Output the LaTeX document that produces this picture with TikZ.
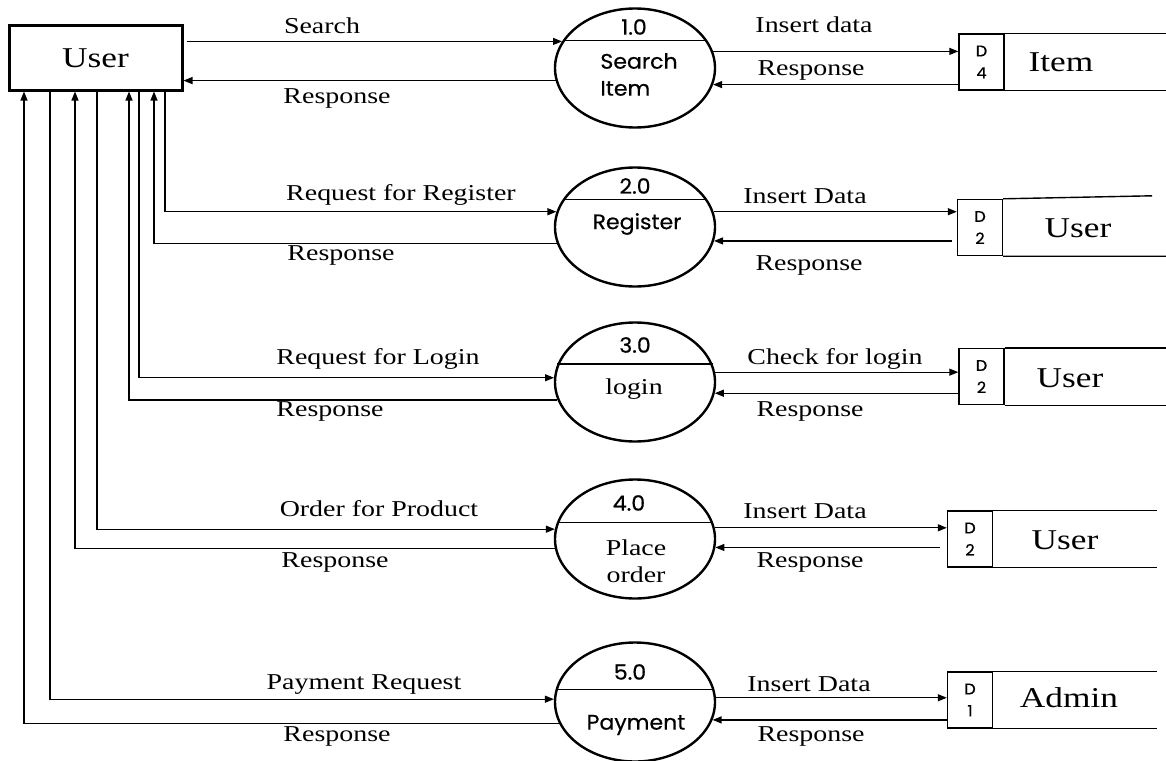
\documentclass[tikz,border=0pt]{standalone}
\usepackage{fontspec}
\usepackage{tikz}
\usetikzlibrary{shapes.geometric,arrows.meta,calc}
\newfontfamily\flowfont[FakeStretch=1.23]{Liberation Serif}
\newfontfamily\bubblefont[FakeBold=0.5,FakeStretch=1.05]{Poppins}

\begin{document}
\begin{tikzpicture}[x=1pt, y=-1pt,
	wire/.style={line width=1.2pt},
	flow/.style={line width=1.2pt, -{Triangle[length=9pt,width=7pt]}},
	proc/.style={ellipse, draw, line width=2.4pt, minimum width=160pt, minimum height=119pt, inner sep=0pt},
	sid/.style={rectangle, draw, line width=1.4pt, minimum width=45pt, minimum height=56pt, inner sep=0pt, align=center, font=\bubblefont\fontsize{15.5}{22}\selectfont},
	lbl/.style={inner sep=0pt, font=\flowfont\fontsize{22.7}{27}\selectfont},
	big/.style={inner sep=0pt, font=\flowfont\fontsize{28.7}{32}\selectfont},
	num/.style={inner sep=0pt, font=\bubblefont\fontsize{21}{27}\selectfont}]
	% Entities, processes, stores and flows:
	\useasboundingbox (0,0) rectangle (1166,760);
	\node[draw, line width=3pt, minimum width=173pt, minimum height=64pt, inner sep=0pt, font=\flowfont\fontsize{28.7}{32}\selectfont] (User) at (95.5,58) {User};
	\node[proc] (P1) at (635,68) {};
	\node[proc] (P2) at (635,227) {};
	\node[proc] (P3) at (635,382) {};
	\node[proc] (P4) at (635,539) {};
	\node[proc] (P5) at (635,702) {};
	\draw[wire] (P1.159) -- (P1.21);
	\draw[wire] (P2.159) -- (P2.21);
	\draw[wire] (P3.167) -- (P3.13);
	\draw[wire] (P4.168) -- (P4.12);
	\draw[wire] (P5.171) -- (P5.9);
	\node[num] (P1n) at (634,27) {1.0};
	\node[num, align=left] (P1t) at (639,74.5) {Search\\Item};
	\node[num] (P2n) at (635,186) {2.0};
	\node[num] (P2t) at (637,224) {Register};
	\node[num] (P3n) at (635,345) {3.0};
	\node[lbl] (P3t) at (634,389) {login};
	\node[num] (P4n) at (629,503) {4.0};
	\node[lbl, align=center] (P4t) at (636,561) {Place\\order};
	\node[num] (P5n) at (630,672) {5.0};
	\node[num] (P5t) at (636,725) {Payment};
	\node[sid] (D1) at (981.5,62) {D\\4};
	\draw[wire, line width=1.4pt] (D1.north east) -- ++(162,0) (D1.south east) -- ++(162,0);
	\node[big] (D1t) at (1061,62) {Item};
	\node[sid] (D2) at (980,227.5) {D\\2};
	\draw[wire, line width=1.4pt] (D2.north east) -- ++(149,-3) (D2.south east) -- ++(163,0);
	\node[big] (D2t) at (1078,228) {User};
	\node[sid] (D3) at (981.5,376.5) {D\\2};
	\draw[wire, line width=1.4pt] (D3.north east) -- ++(162,0) (D3.south east) -- ++(162,0);
	\node[big] (D3t) at (1070,378) {User};
	\node[sid] (D4) at (970,539) {D\\2};
	\draw[wire, line width=1.4pt] (D4.north east) -- ++(164,0) (D4.south east) -- ++(164,0);
	\node[big] (D4t) at (1065,540) {User};
	\node[sid] (D5) at (970,700) {D\\1};
	\draw[wire, line width=1.4pt] (D5.north east) -- ++(164,0) (D5.south east) -- ++(164,0);
	\node[big] (D5t) at (1069,698) {Admin};
	\draw[flow] (User.east |- P1.160) ++(3,0) -- (P1.160);
	\draw[flow] (P1.189) -- (User.east |- P1.189);
	\draw[flow] ($(User.south west)+(157.5,0)$) |- (P2.169);
	\draw[flow] (P2.192) -| ($(User.south west)+(146.5,0)$);
	\draw[flow] ($(User.south west)+(131.5,0)$) |- (P3.177);
	\draw[flow] (P3.193) -| ($(User.south west)+(121.5,0)$);
	\draw[flow] ($(User.south west)+(89.5,0)$) |- (P4.173);
	\draw[flow] (P4.187) -| ($(User.south west)+(67.5,0)$);
	\draw[flow] ($(User.south west)+(42.5,0)$) |- (P5.178);
	\draw[flow] (P5.196) -| ($(User.south west)+(16.5,0)$);
	\draw[flow] (P1.12) -- (P1.12 -| D1.west);
	\draw[flow] (D1.west |- P1.348) -- (P1.348);
	\draw[flow] (P2.11) -- (P2.11 -| D2.west);
	\draw[flow] ($(D2.west |- P2.350)+(-5,0)$) -- (P2.350);
	\draw[flow] (P3.7) -- (P3.7 -| D3.west);
	\draw[flow] (D3.west |- P3.352) -- (P3.352);
	\draw[flow] (P4.8) -- (P4.8 -| D4.west);
	\draw[flow] ($(D4.west |- P4.354)+(-7,0)$) -- (P4.354);
	\draw[flow] (P5.3) -- (P5.3 -| D5.west);
	\draw[flow] (D5.west |- P5.347) -- (P5.347);
	\node[lbl] (L1) at (322,26) {Search};
	\node[lbl] (L2) at (337,98) {Response};
	\node[lbl] (L3) at (401,195) {Request for Register};
	\node[lbl] (L4) at (341,255) {Response};
	\node[lbl] (L5) at (378,359) {Request for Login};
	\node[lbl] (L6) at (330,411) {Response};
	\node[lbl] (L7) at (379,509) {Order for Product};
	\node[lbl] (L8) at (335,562) {Response};
	\node[lbl] (L9) at (364,685) {Payment Request};
	\node[lbl] (L10) at (337,736) {Response};
	\node[lbl] (R1) at (814,25) {Insert data};
	\node[lbl] (R2) at (811,70) {Response};
	\node[lbl] (R3) at (805,196) {Insert Data};
	\node[lbl] (R4) at (809,265) {Response};
	\node[lbl] (R5) at (835,359) {Check for login};
	\node[lbl] (R6) at (810,411) {Response};
	\node[lbl] (R7) at (805,511) {Insert Data};
	\node[lbl] (R8) at (810,562) {Response};
	\node[lbl] (R9) at (809,684) {Insert Data};
	\node[lbl] (R10) at (811,736) {Response};
\end{tikzpicture}
\end{document}
